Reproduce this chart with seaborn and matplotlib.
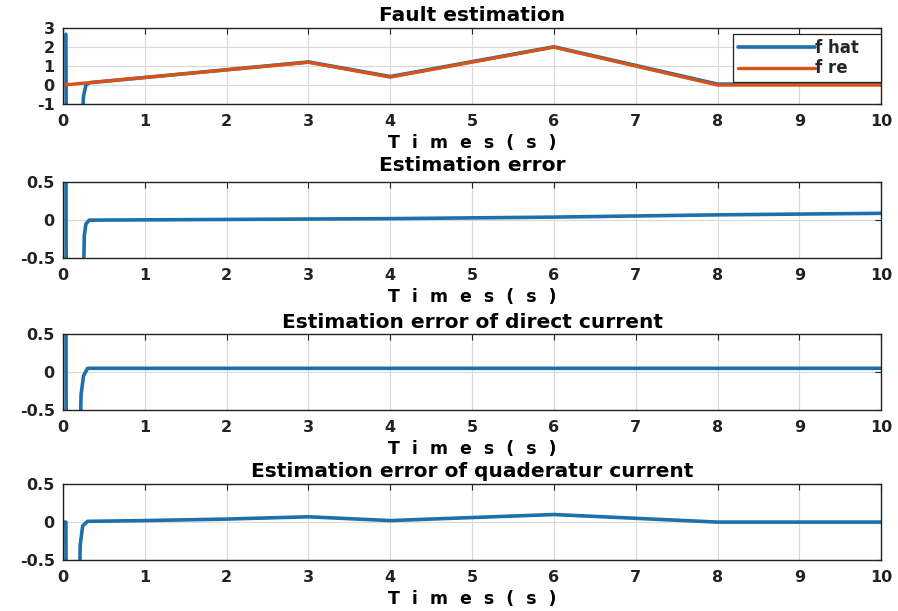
import matplotlib
matplotlib.use("Agg")
import matplotlib.pyplot as plt
import seaborn as sns

# --- Data ---
t_re = [0.0, 3.0, 4.0, 6.0, 8.0, 10.0]
f_re = [0.0, 1.2, 0.42, 2.0, 0.0, 0.0]

t_hat = [0.035, 0.04, 0.22, 0.25, 0.28, 0.32, 3.0, 4.0, 6.0, 8.0, 10.0]
f_hat = [2.68, -3.0, -3.0, -0.6, 0.0, 0.12, 1.22, 0.45, 2.02, 0.05, 0.05]

t_err = [0.035, 0.04, 0.23, 0.26, 0.28, 0.32, 4.0, 6.0, 8.0, 10.0]
err = [2.0, -2.0, -2.0, -0.2, -0.05, 0.0, 0.02, 0.04, 0.07, 0.09]

t_id = [0.035, 0.04, 0.19, 0.22, 0.25, 0.3, 10.0]
err_id = [2.0, -2.0, -2.0, -0.3, -0.05, 0.05, 0.05]

t_iq = [0.0, 0.035, 0.04, 0.18, 0.21, 0.24, 0.3, 1.0, 2.0, 3.0, 4.0, 5.0, 6.0, 7.0, 8.0, 10.0]
err_iq = [0.0, 0.0, -2.0, -2.0, -0.3, -0.05, 0.01, 0.02, 0.04, 0.07, 0.02, 0.06, 0.1, 0.05, 0.0, 0.0]

BLUE = "#1f6fab"
ORANGE = "#D95319"
INK = "#222222"

sns.set_style("whitegrid")
plt.rcParams["font.family"] = ["DejaVu Sans"]
plt.rcParams["font.weight"] = "bold"

fig = plt.figure(figsize=(8.98, 6.11), dpi=100)
left, width, height = 0.0702, 0.911, 0.124
bottoms = [0.8298, 0.5777, 0.329, 0.0835]
title_pads = [5, 8, 4.5, 5]
titles = ["Fault estimation", "Estimation error",
          "Estimation error of direct current",
          "Estimation error of quaderatur current"]
series = [None, (t_err, err), (t_id, err_id), (t_iq, err_iq)]

for i, b in enumerate(bottoms):
    ax = fig.add_axes([left, b, width, height])
    if i == 0:
        sns.lineplot(x=t_hat, y=f_hat, sort=False, estimator=None, color=BLUE,
                     lw=2.6, label="f hat   ", ax=ax)
        sns.lineplot(x=t_re, y=f_re, sort=False, estimator=None, color=ORANGE,
                     lw=2.4, label="f re", ax=ax)
        ax.set_ylim(-1, 3)
        ax.set_yticks([-1, 0, 1, 2, 3])
        ax.set_yticklabels(["-1", "0", "1", "2", "3"])
        leg = ax.legend(loc="upper right", bbox_to_anchor=(1.0, 0.925),
                        borderaxespad=0, handlelength=4.6, frameon=True,
                        fancybox=False, borderpad=0.3, labelspacing=0.15,
                        handletextpad=0.0,
                        prop={"weight": "bold", "size": 12})
        leg.get_frame().set_edgecolor(INK)
        leg.get_frame().set_linewidth(0.9)
        leg.get_frame().set_alpha(1)
    else:
        tx, ty = series[i]
        sns.lineplot(x=tx, y=ty, sort=False, estimator=None, color=BLUE,
                     lw=2.6, ax=ax)
        ax.set_ylim(-0.5, 0.5)
        ax.set_yticks([-0.5, 0, 0.5])
        ax.set_yticklabels(["-0.5", "0", "0.5"])
    ax.set_xlim(0, 10)
    ax.set_xticks(range(11))
    ax.set_title(titles[i], fontsize=14.5, fontweight="bold", pad=title_pads[i],
                 color="black")
    ax.set_xlabel("T  i  m  e  s  (  s  )", fontsize=12.5, fontweight="bold",
                  labelpad=4, color="black")
    ax.set_ylabel("")
    ax.grid(True, color="#d9d9d9", lw=0.8)
    ax.tick_params(axis="x", pad=7)
    ax.tick_params(axis="y", pad=6)
    ax.tick_params(axis="both", which="both", direction="in", length=4,
                   top=True, right=True, labelsize=11.5, color=INK,
                   labelcolor=INK)
    for lab in ax.get_xticklabels() + ax.get_yticklabels():
        lab.set_fontweight("bold")
    for sp in ax.spines.values():
        sp.set_visible(True)
        sp.set_color(INK)
        sp.set_linewidth(1.0)

fig.savefig("out.png", dpi=100)
